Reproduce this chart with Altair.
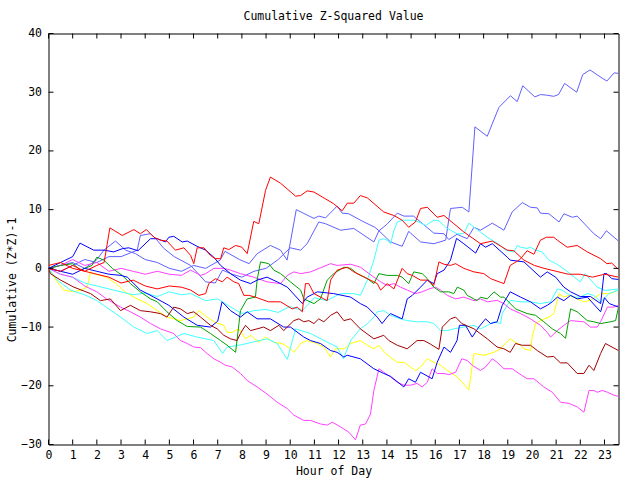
import altair as alt
import pandas as pd

FONT = "DejaVu Sans Mono"
FS = 11.5

# (hour, value) readings for each series
R1 = [(0,0.5),(0.5,1.0),(1,0),(1.5,-0.5),(2,0.5),(2.3,1.0),(2.54,6.9),(3.05,5.6),(3.53,6.6),(3.8,5.9),(4.05,6.6),(4.36,5.3),(4.63,4.8),(4.9,4.65),(5.25,3.1),(5.6,3.5),(5.88,2.2),(6.01,0.8),(6.15,3.5),(6.43,3.5),(6.7,2.2),(6.9,1.65),(7.12,1.65),(7.25,3.5),(7.46,3.2),(7.74,3.9),(8.0,3.6),(8.22,2.5),(8.49,8.0),(8.7,7.6),(8.98,13.3),(9.18,15.55),(9.6,14.5),(10.22,12.3),(10.43,12.4),(10.7,13.2),(10.98,13.0),(11.8,11.0),(12.15,9.8),(12.36,11.1),(12.63,11.1),(12.9,12.4),(13.19,12.0),(13.87,9.6),(14.29,9.0),(14.63,8.2),(14.9,7.0),(15.18,7.9),(15.39,10.2),(15.67,10.4),(16.08,8.7),(16.36,9.0),(16.77,7.6),(17.18,6.2),(17.87,4.2),(18.36,4.65),(18.98,3.1),(19.25,3.0),(19.67,1.4),(20.1,0.5),(20.5,0),(21.0,-0.5),(21.5,-1.0),(22.0,-1.0),(22.5,-1.5),(23.0,-1.0),(23.58,-1.5)]

R2 = [(0,0),(0.5,-0.5),(1,0.5),(1.5,-0.5),(2,-1),(2.5,-1.5),(3,-2.5),(3.5,-2),(4,-3),(4.5,-3.5),(5,-3),(5.5,-3.2),(5.88,-3.7),(6.22,-4.6),(6.5,-4.3),(6.63,-2.6),(6.91,-1.75),(7.19,-2.3),(7.39,-1.5),(7.67,-2.3),(7.87,-2.6),(8.08,-4.6),(8.29,-4.6),(8.56,-4.9),(9.1,-5.7),(9.6,-5.7),(10.08,-6.9),(10.29,-6.6),(10.5,-7.4),(10.63,-2.6),(10.77,-2.6),(10.98,-4.3),(11.39,-5.2),(11.53,-5.5),(11.67,-2.0),(11.94,-0.3),(12.36,0.2),(12.63,-0.6),(13.19,-1.75),(13.6,-2.6),(13.74,-3.7),(14.01,-2.6),(14.29,-3.5),(14.63,0),(14.84,-0.9),(15.05,-1.2),(15.39,-2),(15.67,-2),(15.94,-2.9),(16.15,1.1),(16.36,0.7),(16.63,0.5),(16.84,0.8),(17.18,0),(17.6,-0.6),(18.01,-0.9),(18.29,-1.75),(18.84,-2.6),(19.1,0.5),(19.5,1.5),(19.8,3.0),(20.08,2.4),(20.35,4.8),(20.6,5.3),(20.9,5.3),(21.05,4.8),(21.46,3.6),(21.87,3.9),(22.29,2.8),(22.84,1.65),(23.1,0.8),(23.3,0.9),(23.58,-0.2)]

D1 = [(0,0),(0.08,-0.9),(0.5,-2),(1.05,-3.2),(1.74,-4.3),(2.15,-5.5),(2.56,-5.2),(2.98,-7.2),(3.39,-6.3),(3.8,-7.2),(4.22,-7.4),(4.63,-7.7),(4.9,-8.3),(5.18,-6.6),(5.46,-6.9),(5.74,-7.7),(6.01,-7.4),(6.29,-8.3),(6.7,-9.7),(6.98,-10.3),(7.25,-11.4),(7.53,-12),(7.8,-12.3),(7.94,-11.1),(8.15,-9.7),(8.36,-10.6),(8.63,-10.3),(8.9,-10),(9.18,-10.6),(9.53,-9.7),(9.73,-10.6),(10.15,-8.9),(10.36,-8.6),(10.56,-9.1),(10.77,-8.9),(10.98,-9.4),(11.18,-8.6),(11.39,-9.1),(11.67,-8),(11.94,-7.4),(12.22,-8.9),(12.5,-8.6),(12.9,-10.3),(13.46,-12),(13.87,-11.4),(14.08,-12.3),(14.43,-13.1),(14.84,-13.7),(15.25,-12.3),(15.53,-12.3),(15.8,-12.9),(16.15,-13.8),(16.29,-10),(16.63,-8.6),(16.84,-8.3),(17.1,-9.4),(17.6,-10.3),(18.15,-12),(18.56,-13.4),(18.84,-13.7),(19.1,-14.3),(19.32,-12.8),(19.6,-13.1),(19.94,-13.1),(20.22,-14),(20.63,-15.1),(20.9,-15),(21.18,-16.1),(21.46,-16.1),(21.87,-17.9),(22.15,-17.9),(22.36,-16.5),(22.56,-17.4),(22.84,-14.5),(23.04,-12.8),(23.58,-14)]

B1 = [(0,0),(0.5,1.0),(1.0,2.0),(1.3,4.3),(1.87,3.1),(2.3,3.1),(2.7,2.8),(3.05,3.35),(3.32,3.5),(3.7,3.0),(4.22,5.05),(4.5,5.05),(4.84,4.5),(4.98,5.3),(5.18,5.45),(5.53,4.5),(5.74,4.65),(6.15,3.75),(6.5,3.1),(6.84,1.9),(7.12,0.5),(7.53,-0.9),(7.94,-2.0),(8.36,-2.6),(8.63,-2.0),(9.04,-1.5),(9.46,-2.3),(9.88,-3.2),(10.5,-6.0),(10.7,-4.9),(11.12,-4.0),(11.8,-4.3),(12.5,-4.9),(12.9,-6.0),(13.19,-6.6),(13.6,-8.3),(13.8,-9.4),(14.01,-8.3),(14.15,-7.7),(14.63,-8.6),(14.84,-5.2),(15.05,-4.6),(15.39,-3.2),(15.67,-2.0),(15.94,-2.6),(16.08,-0.9),(16.36,-0.3),(16.63,1.4),(16.88,5.1),(17.18,4.2),(17.67,2.6),(17.87,4.2),(18.08,3.6),(18.36,4.2),(18.98,1.9),(19.1,1.4),(19.67,1.1),(20.35,-1.5),(20.63,-0.6),(20.98,-1.5),(21.32,-3.2),(21.6,-4.0),(22.0,-4.8),(22.42,-4.8),(22.84,-6.0),(22.98,-0.9),(23.1,-0.9),(23.3,-1.75),(23.58,-1.9)]

B2 = [(0,0),(0.5,-0.5),(1.0,-1.0),(1.5,0),(2.0,-0.5),(2.5,-1.0),(3.0,-1.2),(3.26,-1.5),(3.8,-3.7),(4.36,-4.9),(4.98,-6.3),(5.6,-8.3),(6.15,-9.7),(6.7,-10.0),(7.0,-9.0),(7.18,-5.7),(7.53,-7.2),(7.94,-8.3),(8.22,-7.4),(8.63,-8.6),(9.18,-8.6),(9.73,-10.0),(10.01,-10.0),(10.56,-11.7),(10.84,-12.3),(11.25,-12.8),(11.67,-14.0),(11.94,-14.3),(12.22,-15.1),(12.36,-14.8),(12.9,-15.4),(13.46,-17.1),(13.87,-17.9),(14.15,-18.4),(14.7,-20.2),(14.9,-18.8),(15.18,-19.4),(15.39,-17.7),(15.87,-18.8),(16.08,-16.0),(16.36,-13.4),(16.63,-14.3),(16.9,-12.3),(17.0,-9.7),(17.25,-9.7),(17.53,-11.7),(17.8,-10.0),(18.08,-8.6),(18.29,-9.4),(18.56,-9.1),(18.77,-6.3),(19.1,-4.0),(19.53,-4.9),(19.94,-5.7),(20.35,-6.9),(20.63,-6.3),(20.84,-5.7),(21.05,-4.9),(21.32,-5.5),(21.6,-4.6),(21.87,-5.2),(22.29,-4.9),(22.84,-7.4),(23.0,-5.0),(23.2,-6.0),(23.58,-6.6)]

G1 = [(0,0),(0.5,0.5),(1.0,0.8),(1.32,-0.3),(1.8,0.5),(2.0,1.9),(2.29,1.4),(2.64,0),(3.05,-1.2),(3.39,-2.6),(3.8,-4.0),(4.22,-5.2),(4.5,-5.7),(4.9,-7.4),(5.32,-8.9),(5.74,-9.9),(6.29,-10.0),(6.7,-11.1),(7.12,-12.3),(7.39,-13.1),(7.74,-14.3),(7.88,-9.4),(7.94,-7.2),(8.22,-5.2),(8.56,-4.9),(8.63,-2.0),(8.77,1.1),(9.11,0.8),(9.32,-0.3),(9.6,-0.9),(10.01,-2.3),(10.43,-3.7),(10.56,-5.2),(10.98,-6.0),(11.25,-5.2),(11.53,-2.0),(11.8,-0.9),(12.22,0.2),(12.5,0),(12.77,-0.9),(13.19,-1.75),(13.46,-2.6),(13.67,-0.9),(14.01,-1.2),(14.43,-1.2),(14.63,-1.5),(14.9,-2.6),(15.11,-0.6),(15.46,-0.9),(15.67,-1.75),(15.94,-3.2),(16.22,-4.0),(16.56,-4.0),(16.77,-4.3),(16.91,-3.2),(17.18,-3.7),(17.32,-4.6),(17.73,-5.5),(17.87,-4.9),(18.15,-5.2),(18.43,-4.0),(18.7,-4.9),(18.84,-4.9),(19.32,-6.9),(19.8,-7.7),(20.15,-8.0),(20.49,-9.1),(20.84,-10.3),(21.18,-11.1),(21.39,-11.9),(21.6,-6.9),(21.87,-7.4),(22.29,-8.9),(22.56,-9.1),(22.84,-9.4),(23.25,-9.1),(23.46,-8.9),(23.58,-6.6)]

M1 = [(0,0),(0.5,0.5),(1.0,1.5),(1.5,0.5),(2.0,1.0),(2.5,-0.5),(3.0,0),(3.5,-0.5),(4.0,-1.0),(4.5,-0.5),(5.0,-1.0),(5.5,-1.2),(5.88,-0.3),(6.29,-1.2),(6.5,-0.9),(6.84,0),(7.25,0),(7.53,-0.3),(7.94,-0.9),(8.49,-1.5),(9.04,-2.3),(9.6,-2.6),(9.88,-1.2),(10.15,-0.6),(10.43,-0.9),(10.84,-0.6),(11.67,0.8),(11.94,0.5),(12.5,0.7),(12.9,0.2),(13.46,-1.5),(13.74,-2.3),(14.01,-2.9),(14.29,-2.6),(14.56,-3.2),(14.84,-3.7),(15.18,-4.3),(15.46,-4.0),(15.74,-3.5),(16.01,-3.2),(16.22,-3.7),(16.5,-4.6),(16.84,-5.2),(17.18,-4.9),(17.6,-5.5),(17.87,-5.2),(18.15,-5.7),(18.56,-5.45),(18.84,-6.0),(19.1,-6.9),(19.53,-7.7),(19.94,-8.6),(20.35,-9.7),(20.63,-10.9),(20.77,-11.7),(21.05,-10.6),(21.32,-9.7),(21.6,-8.9),(22.15,-9.1),(22.42,-10.0),(22.7,-10.0),(22.84,-9.1),(23.12,-6.6),(23.39,-6.6),(23.58,-6.3)]

M2 = [(0,0),(0.5,-1.0),(1.0,-1.5),(1.5,-3.0),(2.0,-4.0),(2.4,-5.2),(2.98,-6.6),(3.39,-7.4),(3.8,-8.3),(4.22,-9.4),(4.63,-10.3),(5.18,-11.1),(5.46,-12.3),(5.74,-12.8),(6.01,-13.4),(6.29,-13.5),(6.56,-14.5),(6.84,-15.4),(7.12,-16.0),(7.32,-16.5),(7.6,-16.8),(7.94,-17.9),(8.22,-19.1),(8.63,-20.2),(9.04,-21.4),(9.46,-22.8),(9.88,-23.9),(10.15,-25.0),(10.56,-25.9),(10.84,-25.9),(11.25,-26.5),(11.53,-26.7),(11.74,-26.2),(12.08,-27.0),(12.42,-27.9),(12.7,-29.2),(12.9,-26.7),(13.12,-26.5),(13.32,-24.8),(13.46,-20.8),(13.67,-17.1),(13.87,-17.7),(14.15,-18.5),(14.43,-19.4),(14.7,-19.9),(14.98,-19.9),(15.25,-19.6),(15.46,-20.2),(15.67,-19.4),(15.87,-17.1),(16.08,-17.9),(16.36,-17.9),(16.56,-18.1),(16.84,-17.7),(17.1,-15.4),(17.32,-15.7),(17.53,-16.5),(17.87,-17.4),(18.08,-16.8),(18.36,-15.4),(18.56,-16.0),(18.84,-17.1),(19.18,-17.1),(19.46,-17.9),(19.8,-18.8),(20.08,-18.8),(20.49,-20.2),(20.84,-21.1),(21.18,-22.8),(21.53,-23.0),(21.87,-23.6),(22.15,-24.5),(22.36,-20.8),(22.56,-20.8),(22.7,-21.1),(22.91,-20.8),(23.12,-21.1),(23.39,-21.6),(23.58,-21.8)]

C1 = [(0,0),(0.5,-1.0),(1.0,-1.5),(1.5,-2.5),(2.0,-3.0),(2.5,-3.5),(3.0,-4.0),(3.5,-4.5),(4.0,-4.2),(4.5,-4.8),(5.0,-4.0),(5.5,-4.5),(5.88,-4.3),(6.5,-5.5),(7.0,-5.2),(7.5,-6.5),(8.0,-7.7),(8.5,-7.2),(9.0,-7.0),(9.5,-7.5),(10.0,-6.5),(10.5,-7.2),(11.0,-5.0),(11.5,-5.5),(12.08,-4.3),(12.63,-4.3),(12.9,-4.6),(13.19,-2.0),(13.46,1.4),(13.67,4.8),(13.87,5.05),(14.0,4.8),(14.15,4.2),(14.29,6.5),(14.43,7.9),(14.63,8.2),(15.11,8.2),(15.32,7.9),(15.6,7.3),(15.94,8.2),(16.15,8.1),(16.43,7.0),(16.63,6.5),(16.91,5.9),(17.18,5.9),(17.39,7.7),(17.67,6.8),(17.87,6.2),(18.15,5.3),(18.36,4.8),(18.7,3.9),(18.9,3.1),(19.25,2.8),(19.4,3.9),(19.53,3.6),(19.8,3.4),(19.94,3.6),(20.15,3.1),(20.42,2.8),(20.7,1.4),(21.0,0.8),(21.39,-0.3),(22.0,-2.3),(22.2,-0.9),(22.7,-3.2),(23.04,-3.75),(23.58,-3.5)]

C2 = [(0,0),(0.36,-2.0),(0.91,-3.7),(1.5,-4.5),(2.0,-5.5),(2.98,-8.3),(3.53,-10.0),(4.08,-11.1),(4.5,-10.6),(4.9,-12.3),(5.6,-11.1),(6.15,-11.7),(6.84,-12.3),(7.2,-14.5),(7.39,-13.4),(8.0,-13.0),(8.5,-12.5),(9.04,-12.0),(9.46,-12.8),(9.88,-15.5),(10.22,-10.3),(10.84,-11.1),(11.5,-12.5),(11.94,-13.4),(12.2,-15.4),(12.5,-12.3),(12.9,-10.3),(13.2,-9.4),(13.46,-8.3),(13.6,-7.4),(13.87,-7.2),(14.15,-8.0),(14.56,-8.6),(14.84,-8.9),(15.25,-9.1),(15.67,-9.1),(15.94,-9.4),(16.22,-10.6),(16.5,-10.6),(16.77,-10.3),(17.18,-10.0),(17.6,-9.7),(17.87,-10.3),(18.15,-9.7),(18.43,-9.1),(18.7,-9.4),(18.77,-7.7),(19.1,-5.45),(19.53,-5.7),(19.94,-5.7),(20.35,-6.0),(20.77,-5.7),(21.05,-3.5),(21.25,-3.7),(21.46,-4.3),(21.73,-4.9),(22.0,-4.9),(22.29,-4.3),(22.56,-4.6),(22.84,-5.7),(22.98,-5.2),(23.18,-4.3),(23.39,-4.0),(23.58,-3.7)]

Y1 = [(0,0),(0.36,-2.3),(0.63,-3.7),(1.05,-4.0),(1.32,-3.7),(1.6,-3.2),(1.74,-0.6),(1.87,-0.9),(2.4,-1.5),(2.8,-2.6),(3.16,-4.0),(3.67,-5.2),(4.08,-6.0),(4.5,-7.2),(4.9,-8.3),(5.46,-8.9),(6.01,-8.3),(6.22,-7.2),(6.56,-8.3),(6.84,-9.1),(7.25,-9.7),(7.39,-10.9),(7.6,-10.9),(7.87,-10.3),(8.15,-12.0),(8.36,-11.4),(8.7,-12.6),(8.98,-11.7),(9.32,-12.6),(9.67,-12.8),(10.01,-13.7),(10.15,-14.3),(10.43,-12.8),(10.7,-12.3),(11.12,-12.8),(11.39,-13.4),(11.67,-15.1),(11.87,-13.7),(12.22,-13.7),(12.5,-12.8),(12.9,-12.3),(13.19,-13.1),(13.46,-13.7),(13.67,-13.1),(13.94,-14.5),(14.43,-16.0),(14.7,-16.0),(15.18,-17.4),(15.39,-16.8),(15.67,-15.4),(15.94,-16.0),(16.22,-16.5),(16.5,-17.4),(16.91,-18.5),(17.39,-20.7),(17.6,-14.5),(18.01,-14.8),(18.43,-14.3),(18.7,-13.7),(18.9,-12.8),(19.1,-12.0),(19.32,-12.6),(19.53,-13.1),(19.67,-13.7),(19.94,-14.0),(20.01,-11.7),(20.15,-9.4),(20.35,-8.9),(20.7,-8.3),(20.9,-7.7),(21.12,-4.3),(21.32,-4.9),(21.53,-4.6),(21.87,-5.2),(22.15,-5.7),(22.42,-5.45),(22.84,-4.3),(23.25,-4.3),(23.58,-3.7)]

S1 = [(0,0),(0.5,0.5),(1.0,1.0),(1.5,0),(2.0,1.5),(2.29,3.1),(2.77,4.65),(3.19,3.1),(3.6,2.5),(4.0,1.5),(4.5,1.0),(5.0,0),(5.5,-0.5),(6.0,0.5),(6.5,0),(7.1,1.4),(7.3,2.9),(7.9,1.5),(8.3,0.8),(8.63,2.5),(9.18,3.9),(9.6,3.1),(9.87,1.4),(10.25,10.0),(10.98,8.5),(11.18,8.9),(11.46,8.6),(11.94,10.6),(12.15,9.4),(12.42,9.3),(13.0,8.0),(13.5,7.0),(13.67,6.4),(14.0,7.5),(14.43,9.4),(14.7,8.9),(15.1,8.9),(15.39,7.9),(15.94,6.0),(16.36,5.9),(16.56,4.9),(16.9,5.8),(17.32,5.05),(17.6,7.0),(17.87,6.5),(18.36,7.7),(18.84,6.5),(19.18,9.6),(19.6,11.2),(19.94,10.4),(20.22,10.3),(20.35,9.4),(20.7,9.3),(21.12,7.9),(21.32,9.3),(21.67,8.7),(21.87,8.9),(22.56,5.9),(22.84,5.05),(23.08,6.4),(23.58,4.65)]

S2 = [(0,0),(0.5,-0.5),(1.0,0.5),(1.5,1.5),(2.0,1.0),(2.5,2.0),(3.0,2.0),(3.67,3.1),(3.8,5.6),(4.22,5.9),(4.43,5.1),(4.77,3.4),(5.2,2.0),(5.88,0.5),(6.5,-2.3),(6.9,-2.5),(7.2,-0.3),(7.6,-1.0),(8.0,-1.5),(8.5,-0.5),(9.0,0),(9.5,1.5),(10.0,3.5),(10.43,3.1),(10.7,4.2),(11.18,7.9),(11.46,7.6),(12.08,6.5),(12.63,6.8),(13.46,4.5),(13.67,6.4),(14.15,4.5),(14.63,3.75),(14.9,6.3),(15.39,4.5),(15.94,4.2),(16.43,4.8),(16.63,10.2),(17.12,10.4),(17.39,9.6),(17.64,24.1),(18.15,22.5),(18.63,27.4),(19.11,29.4),(19.39,28.4),(19.62,31.1),(20.12,29.2),(20.35,29.6),(20.6,29.5),(20.9,29.3),(21.1,29.6),(21.35,31.5),(21.85,30.0),(22.1,33.0),(22.4,33.8),(22.9,32.4),(23.1,31.9),(23.4,33.3),(23.58,33.2)]

series_names = ["S1", "S2", "Y1", "C2", "C1", "M2", "M1", "G1", "B2", "B1", "D1", "R2", "R1"]
series_data = [S1, S2, Y1, C2, C1, M2, M1, G1, B2, B1, D1, R2, R1]
series_colors = ["#6060ff", "#6060ff", "#ffff00", "#40ffff", "#40ffff", "#ff40ff", "#ff40ff",
                 "#00a000", "#0000ff", "#0000ff", "#a00000", "#ff0000", "#ff0000"]

x_ticks = list(range(24))
y_ticks = [-30, -20, -10, 0, 10, 20, 30, 40]

rows = []
for name, pts in zip(series_names, series_data):
    for i, (h, v) in enumerate(pts):
        rows.append({"series": name, "hour": h, "value": v, "i": i})
df = pd.DataFrame(rows)

W, H = 570, 411
TL = 5

xscale = alt.Scale(domain=[0, 23.58], nice=False, zero=False)
yscale = alt.Scale(domain=[-30, 40], nice=False, zero=False)

common = dict(format="d", ticks=False, domain=False, grid=False, labelFlush=False,
              labelOverlap=False, labelFont=FONT, labelFontSize=FS, labelColor="black",
              titleFont=FONT, titleFontSize=FS, titleFontWeight="normal", titleColor="black")
xaxis = alt.Axis(values=x_ticks, labelPadding=5, title="Hour of Day", titleY=27,
                 titleBaseline="middle", **common)
yaxis = alt.Axis(values=y_ticks, labelPadding=7, title="Cumulative (Z*Z)-1", titleX=-36,
                 titleY=246, titleAngle=270, titleAlign="center", titleBaseline="middle", **common)

lines = alt.Chart(df).mark_line(strokeWidth=1, clip=True).encode(
    x=alt.X("hour:Q", scale=xscale, axis=xaxis),
    y=alt.Y("value:Q", scale=yscale, axis=yaxis),
    color=alt.Color("series:N", scale=alt.Scale(domain=series_names, range=series_colors), legend=None),
    order=alt.Order("i:Q"),
)

ydf = pd.DataFrame({"value": y_ticks})
xdf = pd.DataFrame({"hour": x_ticks})

left_t = alt.Chart(ydf).mark_rule(color="black", strokeWidth=1).encode(
    y=alt.Y("value:Q", scale=yscale, axis=yaxis), x=alt.value(0), x2=alt.value(TL))
right_t = alt.Chart(ydf).mark_rule(color="black", strokeWidth=1).encode(
    y=alt.Y("value:Q", scale=yscale, axis=yaxis), x=alt.value(W - TL), x2=alt.value(W))
bottom_t = alt.Chart(xdf).mark_rule(color="black", strokeWidth=1).encode(
    x=alt.X("hour:Q", scale=xscale, axis=xaxis), y=alt.value(H - TL), y2=alt.value(H))
top_t = alt.Chart(xdf).mark_rule(color="black", strokeWidth=1).encode(
    x=alt.X("hour:Q", scale=xscale, axis=xaxis), y=alt.value(0), y2=alt.value(TL))

chart = alt.layer(lines, left_t, right_t, bottom_t, top_t).properties(
    width=W, height=H,
    background="white",
    autosize=alt.AutoSizeParams(type="none"),
    padding={"left": 48.5, "top": 33.5, "right": 21.5, "bottom": 35.5},
    title=alt.TitleParams(text="Cumulative Z-Squared Value", font=FONT, fontSize=FS,
                          fontWeight="normal", color="black", anchor="middle", offset=5),
).configure_view(
    stroke="black", strokeWidth=1
)

chart.save("out.html", embed_options={"renderer": "svg", "actions": False})
